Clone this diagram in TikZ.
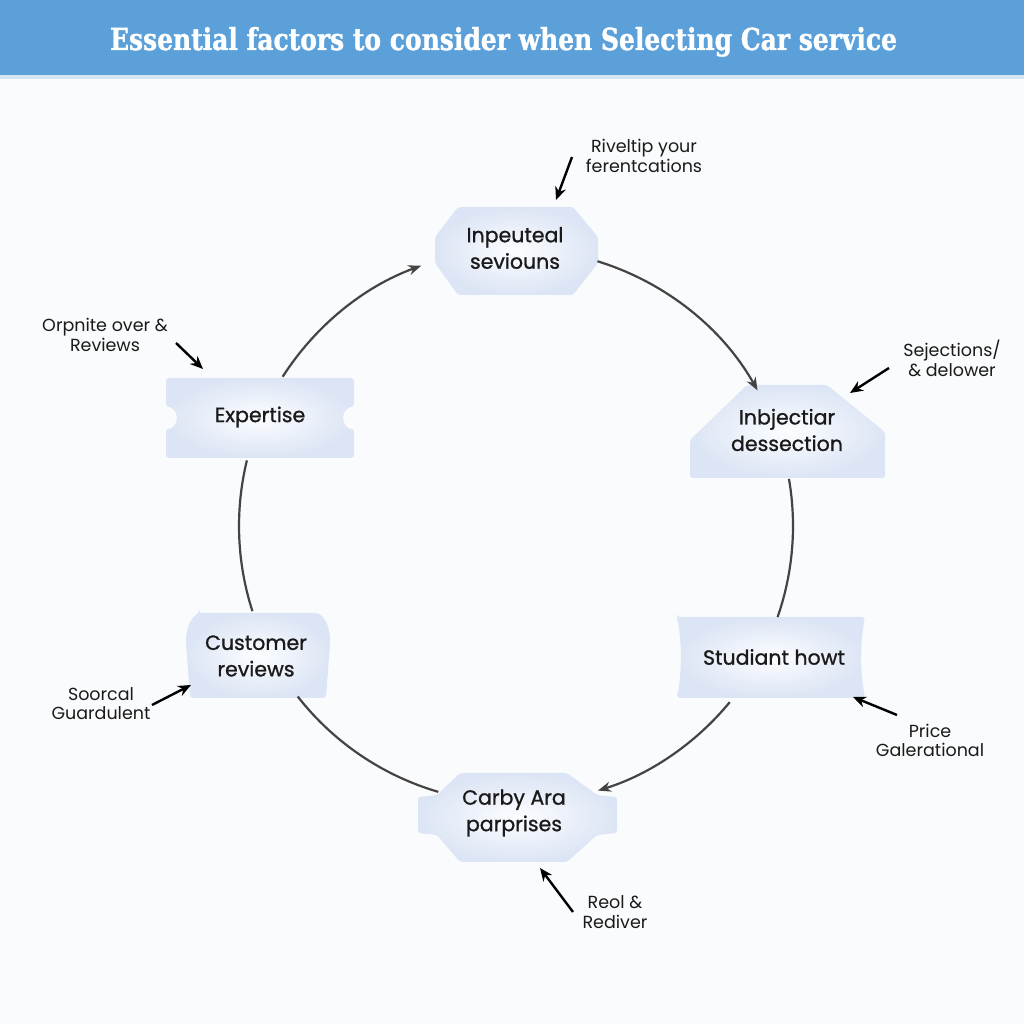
\documentclass[tikz,border=0pt]{standalone}
\usepackage{fontspec}
\usepackage{graphicx}
\setmainfont{Poppins}
\newfontfamily\titlefont{DejaVu Serif}[FakeBold=1.2]
\newfontfamily\nodefont{Poppins}[FakeBold=1]
\usetikzlibrary{arrows.meta,calc}
\definecolor{barblue}{HTML}{5CA0DA}
\definecolor{barline}{HTML}{D4E4F1}
\definecolor{bgc}{HTML}{FAFBFC}
\definecolor{nodeout}{HTML}{DCE5F5}
\definecolor{nodein}{HTML}{FCFDFF}
\definecolor{conncol}{HTML}{444444}
\definecolor{txt}{HTML}{1A1A1A}
\tikzset{
  nshape/.style={inner color=nodein, outer color=nodeout, rounded corners=3pt},
  ntext/.style={font=\nodefont\fontsize{20.5}{26.5}\selectfont, text=txt, align=center, inner sep=0pt},
  ltext/.style={font=\fontsize{17.5}{19.5}\selectfont, text=txt, align=center, inner sep=0pt},
  conn/.style={draw=conncol, line width=2.2pt},
  conna/.style={conn, -{Stealth[length=13pt,width=10pt]}},
  lab/.style={draw=black, line width=2.4pt, -{Stealth[length=13pt,width=11pt]}}
}
\begin{document}
\begin{tikzpicture}[x=1pt,y=1pt]
\useasboundingbox (0,0) rectangle (1024,1024);
\fill[bgc] (0,0) rectangle (1024,1024);
% title bar
\fill[barline] (0,945) rectangle (1024,949);
\fill[barblue] (0,949) rectangle (1024,1024);
\node[text=white, inner sep=0pt, anchor=base] (title) at (503.5,974)
  {\resizebox{787pt}{23pt}{\titlefont\bfseries Essential factors to consider when Selecting Car service}};

% node shapes
\shade[nshape] (458,817) -- (573,817) -- (598,787) -- (598,761) -- (573,729) -- (458,729) -- (435,761) -- (435,787) -- cycle;
\node[ntext] (n1) at (515,776) {Inpeuteal\\seviouns};

\shade[nshape] (166,646) -- (354,646) -- (354,617) arc[start angle=90, end angle=270, radius=11]
  -- (354,566) -- (166,566) -- (166,595) arc[start angle=-90, end angle=90, radius=11] -- cycle;
\node[ntext] (n2) at (260,607) {Expertise};

\shade[nshape] (747,639) -- (827,639) -- (885,592) -- (885,546) -- (690,546) -- (690,584) -- cycle;
\node[ntext] (n3) at (787,594) {Inbjectiar\\dessection};

\shade[nshape] (677,407) -- (865,407) .. controls (860,380) and (860,353) .. (865,326) -- (677,326) .. controls (682,353) and (682,380) .. (677,407) -- cycle;
\node[ntext] (n4) at (774,367) {Studiant howt};

\shade[nshape] (460,251) -- (567,251) -- (597,229) -- (617,227) -- (617,191) -- (597,189) -- (567,162) -- (460,162) -- (437,189) -- (418,191) -- (418,227) -- (437,229) -- cycle;
\node[ntext] (n5) at (514,211) {Carby Ara\\parprises};

\shade[nshape] (199,411) -- (318,411) .. controls (326,405) and (330,395) .. (330,381) -- (326,326) -- (190,326) -- (186,381) .. controls (186,395) and (190,405) .. (199,411) -- cycle;
\node[ntext] (n6) at (256,368) {Customer\\reviews};

% circle connectors
\coordinate (C) at (516,498);
\def\R{277}
\coordinate (a1) at ($(C)+(147.4:\R)$);
\coordinate (b1) at ($(C)+(72.9:\R)$);
\coordinate (c1) at ($(C)+(9.8:\R)$);
\coordinate (d1) at ($(C)+(-39.5:\R)$);
\coordinate (e1) at ($(C)+(-106.3:\R)$);
\coordinate (f1) at ($(C)+(197.9:\R)$);
\draw[conna] (a1) arc[start angle=147.4, end angle=110.0, radius=\R];
\draw[conna] (b1) arc[start angle=72.9, end angle=29.3, radius=\R];
\draw[conn] (c1) arc[start angle=9.8, end angle=-19.2, radius=\R];
\draw[conna] (d1) arc[start angle=-39.5, end angle=-72.8, radius=\R];
\draw[conn] (e1) arc[start angle=-106.3, end angle=-142.0, radius=\R];
\draw[conn] (f1) arc[start angle=197.9, end angle=166.3, radius=\R];

% labels
\node[ltext] (l1) at (644,868) {Riveltip your\\ferentcations};
\coordinate (l1s) at (572,867); \coordinate (l1e) at (556,824);
\draw[lab] (l1s) -- (l1e);

\node[ltext] (l2) at (105,689) {Orpnite over \&\\Reviews};
\coordinate (l2s) at (176,681); \coordinate (l2e) at (203,655);
\draw[lab] (l2s) -- (l2e);

\node[ltext] (l3) at (952,665.5) {Sejections/\\\& delower};
\coordinate (l3s) at (889,656); \coordinate (l3e) at (850,631);
\draw[lab] (l3s) -- (l3e);

\node[ltext] (l4) at (101,320.5) {Soorcal\\Guardulent};
\coordinate (l4s) at (152,319); \coordinate (l4e) at (191,339);
\draw[lab] (l4s) -- (l4e);

\node[ltext] (l5) at (930,283.5) {Price\\Galerational};
\coordinate (l5s) at (897,309); \coordinate (l5e) at (853,327);
\draw[lab] (l5s) -- (l5e);

\node[ltext] (l6) at (615,112) {Reol \&\\Rediver};
\coordinate (l6s) at (573,112); \coordinate (l6e) at (540,156);
\draw[lab] (l6s) -- (l6e);
\end{tikzpicture}
\end{document}
